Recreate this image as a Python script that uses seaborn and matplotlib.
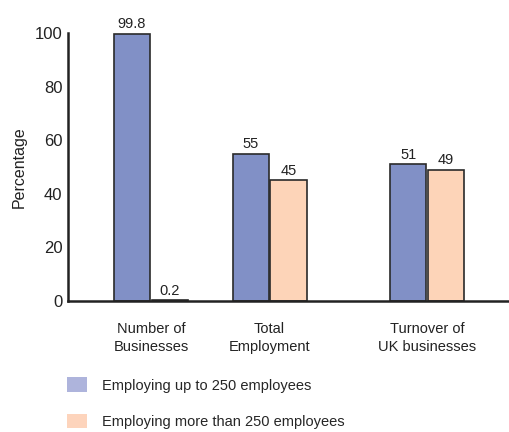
import numpy as np
import pandas as pd
import matplotlib
matplotlib.use('Agg')
import matplotlib.pyplot as plt
from matplotlib.patches import Patch
import seaborn as sns

categories = ['Number of\nBusinesses', 'Total\nEmployment', 'Turnover of\nUK businesses']
small = [99.8, 55, 51]
large = [0.2, 45, 49]
series = ['Employing up to 250 employees', 'Employing more than 250 employees']

# layout: uneven spacing of the groups
group_pos = [0, 1, 2.33]

df = pd.DataFrame({
    'pos': group_pos * 2,
    'value': small + large,
    'series': [series[0]] * 3 + [series[1]] * 3,
})

sns.set_style('white')
plt.rcParams['font.family'] = ['Liberation Sans Narrow', 'Liberation Sans', 'DejaVu Sans']

bar_cols = ['#8190C6', '#FDD4B8']
leg_cols = ['#AEB4DC', '#FDD4BC']

fig = plt.figure(figsize=(5.09, 4.32), dpi=100)
ax = fig.add_axes([0.1336, 0.3032, 0.8664, 0.6204])
sns.barplot(data=df, x='pos', y='value', hue='series', native_scale=True,
            palette=bar_cols, saturation=1, width=0.64, gap=0.05,
            edgecolor='#2a2a2a', linewidth=1.2, legend=False, ax=ax)

for c in ax.containers:
    ax.bar_label(c, fmt='%g', padding=2, fontsize=10.5, color='#222222')

ax.set_xlim(-0.70, 3.02)
ax.set_ylim(0, 100)
ax.set_yticks([0, 20, 40, 60, 80, 100])
ax.set_xticks(group_pos)
ax.set_xticklabels(categories, fontsize=10.5, color='#222222', linespacing=1.35)
ax.tick_params(axis='x', length=0, pad=15)
ax.tick_params(axis='y', direction='in', length=7, width=1.6, labelsize=12,
               color='#222222', labelcolor='#222222', pad=4)
ax.set_xlabel('')
ax.set_ylabel('Percentage', fontsize=11.5, color='#222222', labelpad=6)
for s in ['top', 'right']:
    ax.spines[s].set_visible(False)
for s in ['left', 'bottom']:
    ax.spines[s].set_linewidth(1.8)
    ax.spines[s].set_color('#222222')

handles = [Patch(facecolor=leg_cols[i], edgecolor='none', label=series[i]) for i in range(2)]
fig.legend(handles=handles, loc='upper left', bbox_to_anchor=(0.12, 0.14),
           frameon=False, fontsize=10.5, handlelength=1.4, handleheight=1.15,
           handletextpad=1.0, labelspacing=1.45, borderaxespad=0)

fig.savefig('out.png', dpi=100)
